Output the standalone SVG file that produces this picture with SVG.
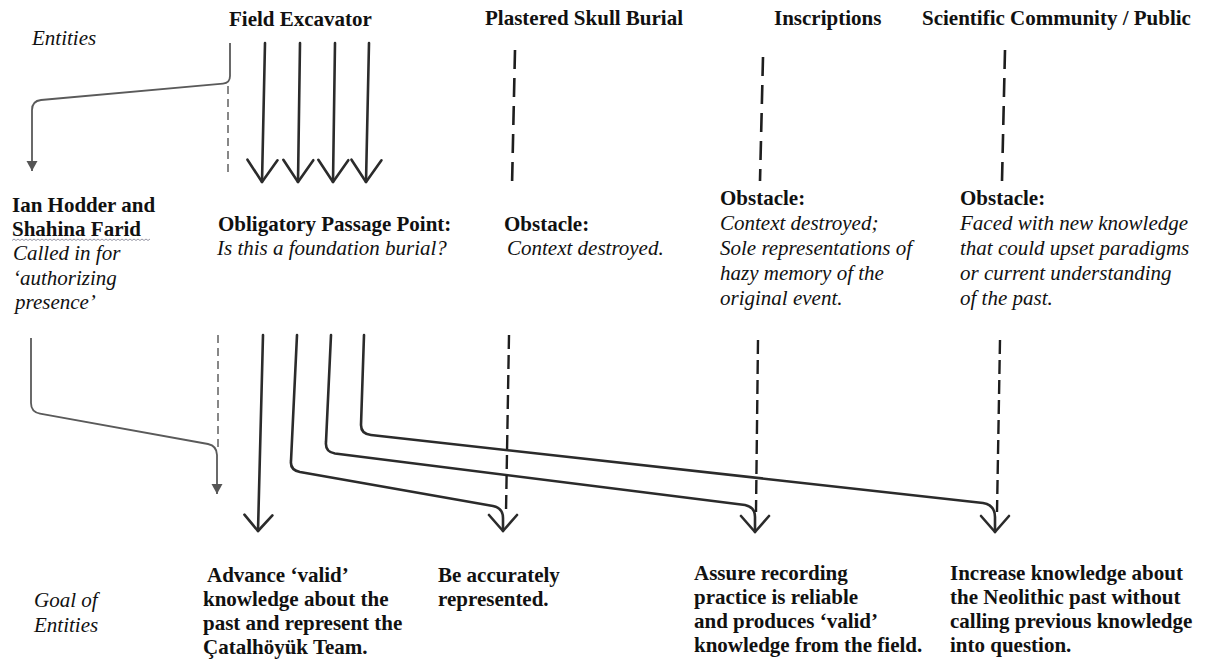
<svg xmlns="http://www.w3.org/2000/svg" width="1206" height="659" viewBox="0 0 1206 659">
<style>
  text { font-family: "Liberation Serif", "Times New Roman", serif; font-size: 21px; fill: #111; }
  .b { font-weight: bold; }
  .i { font-style: italic; }
  .ln { stroke: #2b2b2b; stroke-width: 2.6; fill: none; stroke-linecap: round; stroke-linejoin: round; }
  .gray { stroke: #5a5a5a; stroke-width: 1.8; fill: none; }
  .dash { stroke: #1e1e1e; stroke-width: 2.6; fill: none; stroke-dasharray: 19 9; }
  .dash2 { stroke: #1e1e1e; stroke-width: 2.4; fill: none; stroke-dasharray: 14 6; }
  .thindash { stroke: #555; stroke-width: 1.4; fill: none; stroke-dasharray: 8 5; }
  .squig { stroke: #8a8a9a; stroke-width: 0.9; fill: none; }
</style>
<defs>
  <marker id="vTop" markerUnits="userSpaceOnUse" orient="auto" refX="0" refY="0" markerWidth="30" markerHeight="34" overflow="visible">
    <path d="M-22,-15 L0,0 L-22,15" fill="none" stroke="#2b2b2b" stroke-width="2.6" stroke-linejoin="round" stroke-linecap="round"/>
  </marker>
  <marker id="vBot" markerUnits="userSpaceOnUse" orient="auto" refX="0" refY="0" markerWidth="30" markerHeight="34" overflow="visible">
    <path d="M-16,-14 L0,0 L-16,14" fill="none" stroke="#2b2b2b" stroke-width="2.6" stroke-linejoin="round" stroke-linecap="round"/>
  </marker>
  <marker id="tri" markerUnits="userSpaceOnUse" orient="auto" refX="0" refY="0" markerWidth="12" markerHeight="12" overflow="visible">
    <path d="M-10,-5.5 L0,0 L-10,5.5 Z" fill="#555"/>
  </marker>
</defs>

<g id="labels">
  <text class="i" x="32" y="45">Entities</text>
  <text class="i" x="34" y="607">Goal of</text>
  <text class="i" x="34" y="632">Entities</text>
</g>

<g id="node-field-excavator">
  <text class="b" x="229" y="26">Field Excavator</text>
  <text class="b" x="218" y="231">Obligatory Passage Point:</text>
  <text class="i" x="217" y="255">Is this a foundation burial?</text>
  <text class="b" x="207" y="582">Advance ‘valid’</text>
  <text class="b" x="203" y="606">knowledge about the</text>
  <text class="b" x="203" y="630">past and represent the</text>
  <text class="b" x="203" y="654">Çatalhöyük Team.</text>
</g>

<g id="node-hodder-farid">
  <text class="b" x="12" y="212">Ian Hodder and</text>
  <text class="b" x="12" y="236">Shahina Farid</text>
  <path class="squig" d="M12,240.5 l2,-1.5 l2,1.5 l2,-1.5 l2,1.5 l2,-1.5 l2,1.5 l2,-1.5 l2,1.5 l2,-1.5 l2,1.5 l2,-1.5 l2,1.5 l2,-1.5 l2,1.5 l2,-1.5 l2,1.5 l2,-1.5 l2,1.5 l2,-1.5 l2,1.5 l2,-1.5 l2,1.5 l2,-1.5 l2,1.5 l2,-1.5 l2,1.5 l2,-1.5 l2,1.5 l2,-1.5 l2,1.5 l2,-1.5 l2,1.5 l2,-1.5 l2,1.5 l2,-1.5 l2,1.5 l2,-1.5 l2,1.5 l2,-1.5 l2,1.5 l2,-1.5 l2,1.5 l2,-1.5 l2,1.5 l2,-1.5 l2,1.5 l2,-1.5 l2,1.5 l2,-1.5 l2,1.5 l2,-1.5 l2,1.5 l2,-1.5 l2,1.5 l2,-1.5 l2,1.5 l2,-1.5 l2,1.5 l2,-1.5 l2,1.5 l2,-1.5 l2,1.5 l2,-1.5 l2,1.5 l2,-1.5 l2,1.5 l2,-1.5 l2,1.5 l2,-1.5"/>
  <text class="i" x="13" y="260">Called in for</text>
  <text class="i" x="13" y="285">‘authorizing</text>
  <text class="i" x="15" y="309">presence’</text>
</g>

<g id="node-plastered-skull">
  <text class="b" x="485" y="25">Plastered Skull Burial</text>
  <text class="b" x="504" y="231">Obstacle:</text>
  <text class="i" x="507" y="255">Context destroyed.</text>
  <text class="b" x="438" y="582">Be accurately</text>
  <text class="b" x="438" y="606">represented.</text>
</g>

<g id="node-inscriptions">
  <text class="b" x="774" y="25">Inscriptions</text>
  <text class="b" x="720" y="205">Obstacle:</text>
  <text class="i" x="720" y="230">Context destroyed;</text>
  <text class="i" x="720" y="255">Sole representations of</text>
  <text class="i" x="720" y="280">hazy memory of the</text>
  <text class="i" x="720" y="305">original event.</text>
  <text class="b" x="694" y="580">Assure recording</text>
  <text class="b" x="694" y="604">practice is reliable</text>
  <text class="b" x="694" y="628">and produces ‘valid’</text>
  <text class="b" x="694" y="652">knowledge from the field.</text>
</g>

<g id="node-scientific-community">
  <text class="b" x="922" y="25">Scientific Community / Public</text>
  <text class="b" x="960" y="205">Obstacle:</text>
  <text class="i" x="960" y="230">Faced with new knowledge</text>
  <text class="i" x="960" y="255">that could upset paradigms</text>
  <text class="i" x="960" y="280">or current understanding</text>
  <text class="i" x="960" y="305">of the past.</text>
  <text class="b" x="950" y="580">Increase knowledge about</text>
  <text class="b" x="950" y="604">the Neolithic past without</text>
  <text class="b" x="950" y="628">calling previous knowledge</text>
  <text class="b" x="950" y="652">into question.</text>
</g>

<g id="connectors">
  <!-- top section -->
  <path class="gray" d="M230,43 L230,76 Q230,83 223,83.6 L41,100 Q32,101 32,110 L32,171" marker-end="url(#tri)"/>
  <path class="thindash" d="M228,86 L228,172"/>
  <path class="ln" d="M265,43 L262,182" marker-end="url(#vTop)"/>
  <path class="ln" d="M300,43 L298,182" marker-end="url(#vTop)"/>
  <path class="ln" d="M335,43 L333,182" marker-end="url(#vTop)"/>
  <path class="ln" d="M369,43 L366,182" marker-end="url(#vTop)"/>
  <path class="dash" d="M515,50 L512,186"/>
  <path class="dash" d="M763,57 L760,181"/>
  <path class="dash" d="M1005,50 L1002,181"/>

  <!-- bottom section -->
  <path class="gray" d="M31,338 L31,403 Q31,412 40,413.6 L208,444 Q217,446 217,455 L217,494" marker-end="url(#tri)"/>
  <path class="thindash" d="M218,335 L218,448"/>
  <path class="ln" d="M263,335 L258,531" marker-end="url(#vBot)"/>
  <path class="ln" d="M297,335 L291,461 Q290,470 300,472 L493,506 Q503,508 503,518 L503,531" marker-end="url(#vBot)"/>
  <path class="ln" d="M331,335 L326,442 Q325,452 335,453.5 L745,505 Q755,507 755,517 L755,532" marker-end="url(#vBot)"/>
  <path class="ln" d="M364,335 L361,425 Q361,434 371,435 L983,503 Q995,505 995,517 L995,532" marker-end="url(#vBot)"/>
  <path class="dash2" d="M509,335 L506,512"/>
  <path class="dash2" d="M758,340 L756,512"/>
  <path class="dash2" d="M1000,340 L997,512"/>
</g>
</svg>
